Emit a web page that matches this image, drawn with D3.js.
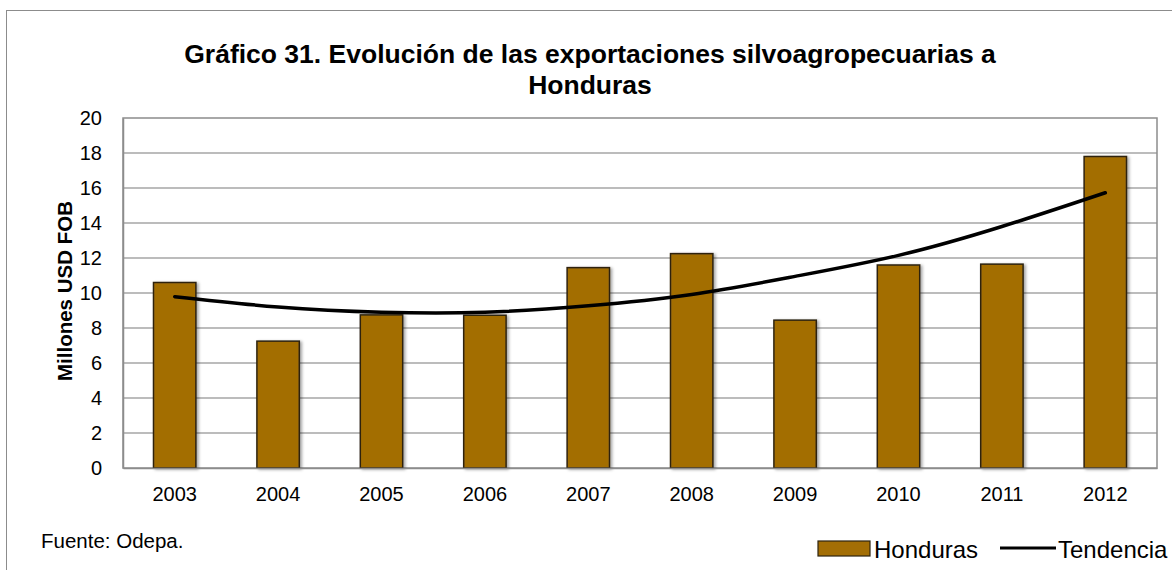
<!DOCTYPE html>
<html><head><meta charset="utf-8">
<script src="https://cdn.jsdelivr.net/npm/d3@7"></script>
<style>body{margin:0;background:#fff;}svg{display:block;font-family:"Liberation Sans",Arial,sans-serif;}</style>
</head><body><svg id="c" width="1172" height="570"></svg>
<script>
const years = ["2003","2004","2005","2006","2007","2008","2009","2010","2011","2012"];
const honduras = [10.6, 7.25, 8.75, 8.73, 11.45, 12.25, 8.45, 11.6, 11.65, 17.8];
const tendencia = [9.79, 9.2, 8.9, 8.9, 9.27, 9.92, 10.95, 12.15, 13.8, 15.73];
const yTicks = [0,2,4,6,8,10,12,14,16,18,20];
const titleLines = ["Gráfico 31. Evolución de las exportaciones silvoagropecuarias a","Honduras"];
const yLabel = "Millones USD FOB";
const source = "Fuente: Odepa.";
const legendNames = ["Honduras","Tendencia"];

const svg = d3.select("#c");
const m = {l:123, r:1157, t:118, b:468};
svg.append("rect").attr("x",6.5).attr("y",10.5).attr("width",1180).attr("height",600)
  .attr("fill","none").attr("stroke","#8c8c8c").attr("stroke-width",1);

const x = d3.scaleBand().domain(years).range([m.l,m.r]).paddingInner(0.59).paddingOuter(0.295);
const y = d3.scaleLinear().domain([0,20]).range([m.b,m.t]);

// gridlines
svg.append("g").selectAll("line").data(yTicks.filter(d=>d>0 && d<20)).join("line")
  .attr("x1",m.l).attr("x2",m.r).attr("y1",d=>y(d)).attr("y2",d=>y(d))
  .attr("stroke","#a6a6a6").attr("stroke-width",1.5);
// plot border
svg.append("rect").attr("x",m.l).attr("y",m.t).attr("width",m.r-m.l).attr("height",m.b-m.t)
  .attr("fill","none").attr("stroke","#8c8c8c").attr("stroke-width",1.5);

// axes
const ya = svg.append("g").attr("transform",`translate(${m.l},0)`)
  .call(d3.axisLeft(y).tickValues(yTicks).tickSize(0).tickPadding(21));
ya.select(".domain").attr("stroke","#8c8c8c").attr("stroke-width",1.5);
ya.selectAll("text").attr("font-size",20).attr("fill","#000").attr("font-family","Liberation Sans, Arial");

// shadow filter
const defs = svg.append("defs");
const f = defs.append("filter").attr("id","sh").attr("x","-20%").attr("y","-20%").attr("width","140%").attr("height","140%");
f.append("feDropShadow").attr("dx",2).attr("dy",1).attr("stdDeviation",1.5).attr("flood-color","#000").attr("flood-opacity",0.35);

svg.append("g").selectAll("rect").data(years).join("rect")
  .attr("x",d=>x(d)).attr("width",x.bandwidth())
  .attr("y",(d,i)=>y(honduras[i])).attr("height",(d,i)=>y(0)-y(honduras[i]))
  .attr("fill","#A36E05").attr("stroke","#2e2410").attr("stroke-width",1.5).attr("filter","url(#sh)");

const xa = svg.append("g").attr("transform",`translate(0,${m.b})`)
  .call(d3.axisBottom(x).tickSize(0).tickPadding(19));
xa.select(".domain").attr("stroke","#8c8c8c").attr("stroke-width",1.5);
xa.selectAll("text").attr("font-size",20).attr("fill","#000").attr("font-family","Liberation Sans, Arial");

// trend
const line = d3.line().x((d,i)=>x(years[i])+x.bandwidth()/2).y(d=>y(d)).curve(d3.curveNatural);
svg.append("path").datum(tendencia).attr("d",line).attr("fill","none")
  .attr("stroke","#000").attr("stroke-width",3.5).attr("stroke-linecap","round");

// title
svg.append("g").selectAll("text").data(titleLines).join("text")
  .attr("x",590).attr("y",(d,i)=>63+i*31).attr("text-anchor","middle")
  .attr("font-size",26.5).attr("font-weight","bold").text(d=>d);

svg.append("text").attr("transform","translate(72,291) rotate(-90)").attr("text-anchor","middle")
  .attr("font-size",20.5).attr("font-weight","bold").text(yLabel);

svg.append("text").attr("x",41).attr("y",548).attr("font-size",20.5).text(source);

// legend
svg.append("rect").attr("x",818).attr("y",541).attr("width",52).attr("height",15)
  .attr("fill","#A36E05").attr("stroke","#2e2410").attr("stroke-width",1.2);
svg.append("text").attr("x",874).attr("y",558).attr("font-size",24).text(legendNames[0]);
svg.append("line").attr("x1",1000).attr("x2",1056).attr("y1",548).attr("y2",548)
  .attr("stroke","#000").attr("stroke-width",3);
svg.append("text").attr("x",1058).attr("y",558).attr("font-size",24).text(legendNames[1]);
</script></body></html>
